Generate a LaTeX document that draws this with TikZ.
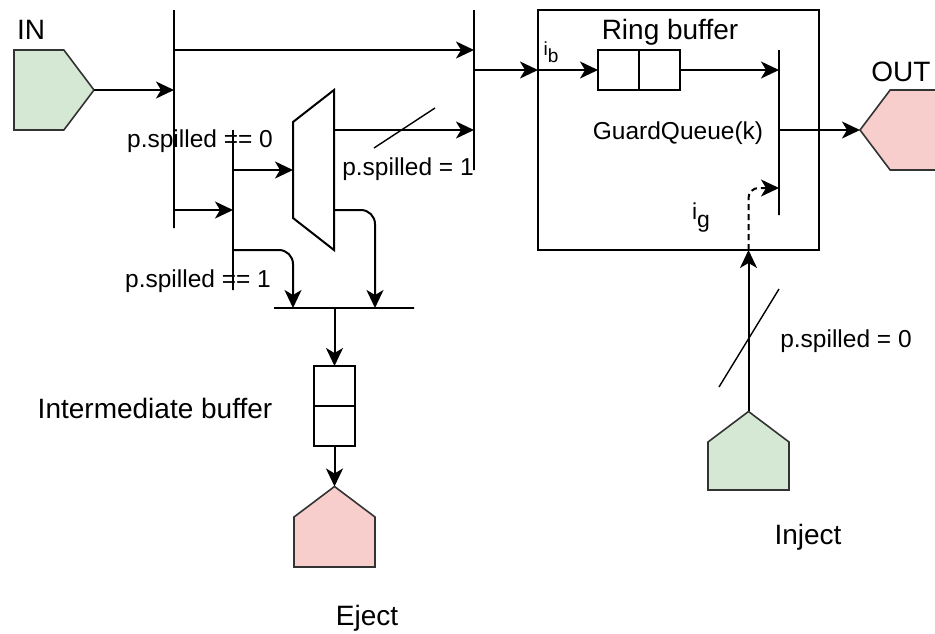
\documentclass[tikz,border=0pt]{standalone}
\usepackage{fontspec}
\setmainfont{Liberation Sans}
\usetikzlibrary{positioning,arrows.meta,shapes.symbols}
\definecolor{ingreen}{HTML}{D5E8D4}
\definecolor{outred}{HTML}{F8CECC}

\begin{document}
\begin{tikzpicture}[
    x=1pt, y=-1pt,
    bar/.style={draw,line width=2pt,inner sep=0pt,outer sep=0pt,minimum width=0pt,minimum height=0pt},
    cell/.style={draw,line width=2pt,minimum width=41pt,minimum height=40pt,inner sep=0pt,outer sep=0pt},
    port/.style={signal,draw=black!80,line width=1.6pt,inner sep=0pt,outer sep=0pt,signal pointer angle=106},
    arr/.style={-{Stealth[length=18pt,width=17pt,inset=5pt]},line width=2pt},
    slash/.style={line width=1.4pt},
    big/.style={font=\fontsize{28}{32}\selectfont,inner sep=0pt},
    small/.style={font=\fontsize{24.5}{28}\selectfont,inner sep=0pt}
  ]
    \useasboundingbox (0,0) rectangle (935,633);

    % Ports
    \node[port, fill=ingreen, signal to=east, minimum width=80pt, minimum height=80pt, anchor=west] (in) at (14,90) {};
    \node[port, fill=outred, signal to=west, minimum width=80pt, minimum height=80pt, anchor=east] (out) at (940,130) {};
    \node[port, fill=outred, signal to=north, minimum width=81pt, minimum height=50pt, anchor=south] (eject) at (334.5,567) {};
    \node[port, fill=ingreen, signal to=north, minimum width=81pt, minimum height=48pt, anchor=south] (inject) at (748.5,490) {};

    % Buses
    \node[bar, minimum height=218pt] (bus1) at (174,119) {};
    \node[bar, minimum height=160pt] (bus2) at (474,90) {};
    \node[bar, minimum height=160pt] (bus3) at (233,210) {};
    \node[bar, minimum width=140pt] (bus4) at (344,308) {};
    \node[bar, minimum height=165pt] (bus5) at (779,132.5) {};

    % Mux
    \draw[line width=2pt] (293,122) -- (334,90) -- (334,250) -- (293,218) -- cycle;
    \coordinate (muxin) at (293,170);
    \coordinate (muxo1) at (334,130);
    \coordinate (muxo2) at (334,210);

    % Buffers
    \node[draw, line width=2pt, minimum width=281pt, minimum height=240pt, outer sep=0pt] (gq) at (678.5,130) {};
    \node[cell] (rb1) at (618.5,70) {};
    \node[cell, right=0pt of rb1] (rb2) {};
    \node[cell] (ib1) at (334.5,386) {};
    \node[cell, below=0pt of ib1] (ib2) {};

    % Tap points
    \coordinate (t1) at (174,50);
    \coordinate (t2) at (174,210);
    \coordinate (t3) at (233,250);
    \coordinate (t4) at (474,70);
    \coordinate (d1) at (293,308);
    \coordinate (d2) at (375,308);
    \coordinate (g1) at (779,188);

    % Labels
    \node[big] (inlbl) at (31,30) {IN};
    \node[big] (outlbl) at (901,72) {OUT};
    \node[big] (rblbl) at (670,32) {Ring buffer};
    \node[small] (gqlbl) at (678,133) {GuardQueue(k)};
    \node[font=\fontsize{19}{20}\selectfont, inner sep=0pt] (iblbl) at (551,52) {i\raisebox{-7pt}{b}};
    \node[font=\fontsize{23}{24}\selectfont, inner sep=0pt] (iglbl) at (701,218) {i\raisebox{-8pt}{g}};
    \node[small] (sp0) at (200,141) {p.spilled == 0};
    \node[small] (sp1) at (198,281) {p.spilled == 1};
    \node[small] (sp2) at (408,169) {p.spilled = 1};
    \node[small] (sp3) at (846,341) {p.spilled = 0};
    \node[big] (iblab) at (155,408) {Intermediate buffer};
    \node[big] (ejlbl) at (367,618) {Eject};
    \node[big] (injlbl) at (808,537) {Inject};

    % Arrows
    \draw[arr] (in.east) -- (in.east -| bus1);
    \draw[arr] (t1) -- (t1 -| bus2);
    \draw[arr] (t2) -- (t2 -| bus3);
    \draw[arr] (muxin -| bus3) -- (muxin);
    \draw[arr] (muxo1) -- (muxo1 -| bus2);
    \draw[arr, rounded corners=14pt] (t3) -| (d1);
    \draw[arr, rounded corners=14pt] (muxo2) -| (d2);
    \draw[arr] (ib1 |- bus4) -- (ib1.north);
    \draw[arr] (ib2.south) -- (eject.north);
    \draw[arr] (t4) -- (t4 -| gq.west);
    \draw[arr] (t4 -| gq.west) -- (rb1.west);
    \draw[arr] (rb2.east) -- (rb2.east -| bus5);
    \draw[arr] (out.west -| bus5) -- (out.west);
    \draw[arr] (inject.north) -- (inject.north |- gq.south);
    \draw[arr, dash pattern=on 6pt off 4pt, rounded corners=10pt] (inject.north |- gq.south) |- (g1);

    % Slashes
    \draw[slash] (374,148) -- (435,108);
    \draw[slash] (719,387) -- (779,289);
  \end{tikzpicture}
\end{document}
